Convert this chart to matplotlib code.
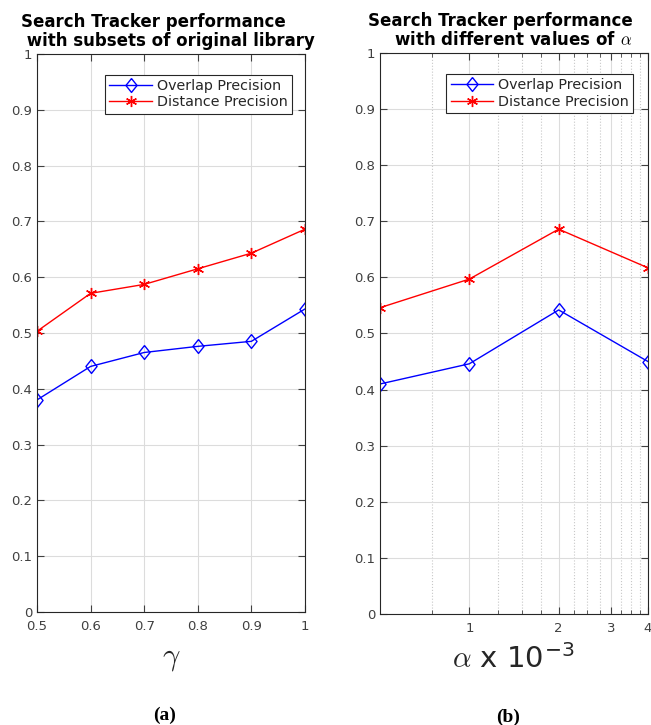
import matplotlib
matplotlib.use('Agg')
import matplotlib.pyplot as plt
from matplotlib.ticker import FixedLocator, NullFormatter

# panel (a): subsets of original library
gamma = [0.5, 0.6, 0.7, 0.8, 0.9, 1.0]
overlap_a = [0.380, 0.440, 0.465, 0.476, 0.485, 0.543]
distance_a = [0.503, 0.571, 0.587, 0.615, 0.643, 0.686]

# panel (b): different values of alpha (x 1e-3)
alpha = [0.5, 1, 2, 4]
overlap_b = [0.410, 0.446, 0.542, 0.450]
distance_b = [0.546, 0.597, 0.686, 0.617]

alpha_ticks = [1, 2, 3, 4]
alpha_minor = [0.75, 1.25, 1.5, 1.75, 2.25, 2.5, 2.75, 3.25, 3.5, 3.75]

plt.rcParams['font.family'] = 'DejaVu Sans'
plt.rcParams['mathtext.fontset'] = 'cm'
tickcol = '#404040'
star = (6, 2, 0)  # asterisk like matlab '*'
diamond = [(0, 1), (0.8, 0), (0, -1), (-0.8, 0), (0, 1)]  # matlab 'd'

fig = plt.figure(figsize=(6.51, 7.25), dpi=100)
ax1 = fig.add_axes([0.0568, 0.1559, 0.4117, 0.7697])
ax2 = fig.add_axes([0.5837, 0.1531, 0.4117, 0.7738])

def style(ax):
    ax.set_ylim(0, 1)
    ax.set_yticks([i / 10 for i in range(11)])
    ax.set_yticklabels(['0'] + [f'{i/10:.1f}' for i in range(1, 10)] + ['1'])
    ax.tick_params(direction='in', top=True, right=True, labelsize=9.5,
                   colors=tickcol, length=5, width=0.8)
    ax.tick_params(axis='x', pad=6)
    ax.grid(True, which='major', color='#dcdcdc', linewidth=0.8)
    ax.set_axisbelow(True)
    for s in ax.spines.values():
        s.set_color('#262626')
        s.set_linewidth(0.8)

def legend(ax, right):
    leg = ax.legend(loc='upper right', bbox_to_anchor=(right, 0.975), fontsize=10.3,
                    fancybox=False, edgecolor='#262626', framealpha=1, handlelength=3,
                    borderpad=0.3, labelspacing=0.15, handletextpad=0.3)
    leg.get_frame().set_linewidth(0.8)
    for t in leg.get_texts():
        t.set_color('#262626')

ax1.plot(gamma, overlap_a, color='blue', marker=diamond, markersize=10, markerfacecolor='none',
         linewidth=1, label='Overlap Precision')
ax1.plot(gamma, distance_a, color='red', marker=star, markersize=8,
         linewidth=1, label='Distance Precision')
ax1.set_xlim(0.5, 1)
ax1.set_xticks(gamma)
ax1.set_xticklabels(['0.5', '0.6', '0.7', '0.8', '0.9', '1'])
style(ax1)
ax1.set_title('Search Tracker performance\n with subsets of original library',
              fontsize=12, fontweight='bold', pad=6, linespacing=1.05, ma='left', x=0.49)
ax1.set_xlabel(r'$\gamma$', fontsize=22, labelpad=8, color='#262626')
legend(ax1, 0.977)

ax2.plot(alpha, overlap_b, color='blue', marker=diamond, markersize=10, markerfacecolor='none',
         linewidth=1, label='Overlap Precision')
ax2.plot(alpha, distance_b, color='red', marker=star, markersize=8,
         linewidth=1, label='Distance Precision')
ax2.set_xscale('log')
ax2.set_xlim(0.5, 4)
ax2.xaxis.set_major_locator(FixedLocator(alpha_ticks))
ax2.set_xticklabels([str(t) for t in alpha_ticks])
ax2.xaxis.set_minor_locator(FixedLocator(alpha_minor))
ax2.xaxis.set_minor_formatter(NullFormatter())
style(ax2)
ax2.tick_params(axis='x', which='minor', direction='in', top=True, length=3,
                color=tickcol)
ax2.grid(True, which='minor', axis='x', color='#c8c8c8', linestyle=':', linewidth=0.8)
ax2.set_title('Search Tracker performance\nwith different values of ' + r'$\alpha$',
              fontsize=12, fontweight='bold', pad=6, linespacing=1.05, ma='right', x=0.448)
ax2.set_xlabel(r'$\alpha$ x 10$^{\mathregular{-3}}$', fontsize=21, labelpad=6,
               color='#262626')
legend(ax2, 0.970)

fig.text(165 / 651, 1 - 715 / 725, '(a)', fontsize=14, fontweight='bold',
         family='Liberation Serif', ha='center', va='center')
fig.text(508 / 651, 1 - 717 / 725, '(b)', fontsize=14, fontweight='bold',
         family='Liberation Serif', ha='center', va='center')

fig.savefig('out.png', dpi=100)
